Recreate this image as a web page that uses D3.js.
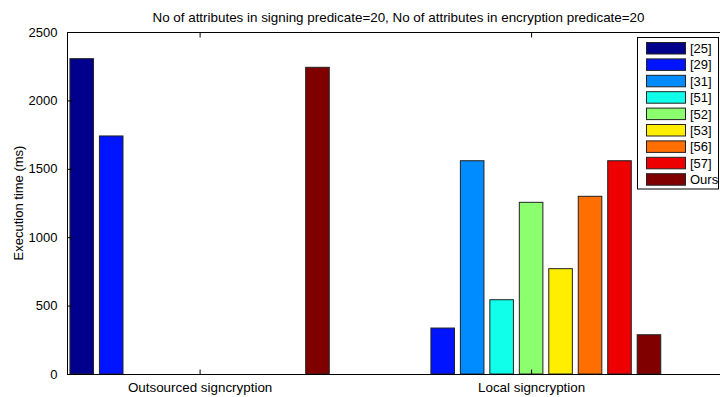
<!DOCTYPE html>
<html>
<head>
<meta charset="utf-8">
<script src="https://cdn.jsdelivr.net/npm/d3@7"></script>
<style>
  body { margin: 0; background: #fff; }
  svg { display: block; font-family: "Liberation Sans", Arial, sans-serif; }
</style>
</head>
<body>
<svg id="chart" width="720" height="397"></svg>
<script>
// Execution time per scheme, in ms
const groups = ["Outsourced signcryption", "Local signcryption"];
const schemes = ["[25]", "[29]", "[31]", "[51]", "[52]", "[53]", "[56]", "[57]", "Ours"];
const outsourced = [2305, 1740, 0, 0, 0, 0, 0, 0, 2242];
const local = [0, 336, 1559, 543, 1255, 770, 1299, 1559, 287];
const yTicks = [0, 500, 1000, 1500, 2000, 2500];
const colors = ["#00008c", "#0014ff", "#008cff", "#10ffeb", "#8cff6e", "#ffee00", "#ff6e00", "#ee0000", "#800000"];
const title = "No of attributes in signing predicate=20, No of attributes in encryption predicate=20";

const series = [outsourced, local];

const svg = d3.select("#chart");
const plotLeft = 67, plotRight = 730, plotTop = 32, plotBottom = 374;
const fontFamily = "Liberation Sans, Arial, sans-serif";

// group positions 1 and 2 on a numeric axis, like a grouped bar plot
const x = d3.scaleLinear().domain([0.6, 2.6]).range([plotLeft, plotRight]);
const y = d3.scaleLinear().domain([0, 2500]).range([plotBottom, plotTop]);

const nb = schemes.length;
const groupWidth = 0.8;
const step = groupWidth / nb;
const barW = step * 0.8;

// bars
groups.forEach((g, gi) => {
  const center = gi + 1;
  series[gi].forEach((v, si) => {
    const c = center + (si - (nb - 1) / 2) * step;
    const x0 = x(c - barW / 2), x1 = x(c + barW / 2);
    svg.append("rect")
      .attr("x", x0).attr("y", y(v))
      .attr("width", x1 - x0).attr("height", y(0) - y(v))
      .attr("fill", colors[si])
      .attr("stroke", "#222").attr("stroke-width", 1);
  });
});

// axes frame (top and bottom lines, left line)
const frame = svg.append("g").attr("stroke", "#000").attr("stroke-width", 1).attr("fill", "none");
frame.append("line").attr("x1", plotLeft).attr("x2", plotRight).attr("y1", plotTop + 0.5).attr("y2", plotTop + 0.5);
frame.append("line").attr("x1", plotLeft).attr("x2", plotRight).attr("y1", plotBottom + 0.5).attr("y2", plotBottom + 0.5);
frame.append("line").attr("x1", plotLeft + 0.5).attr("x2", plotLeft + 0.5).attr("y1", plotTop).attr("y2", plotBottom + 1);

// y axis with inward ticks
const yAxis = d3.axisLeft(y).tickValues(yTicks).tickFormat(d3.format("d"))
  .tickSizeInner(-5).tickSizeOuter(0).tickPadding(10);
const yg = svg.append("g").attr("transform", `translate(${plotLeft + 0.5},0)`).call(yAxis);
yg.select(".domain").remove();
yg.selectAll("text").attr("font-size", 13).attr("fill", "#000").attr("font-family", fontFamily);
yg.selectAll("line").attr("stroke", "#000");

// x axis: inward ticks at group centers, top and bottom
const xAxis = d3.axisBottom(x).tickValues([1, 2]).tickFormat((d, i) => groups[i])
  .tickSizeInner(-5).tickSizeOuter(0).tickPadding(8);
const xg = svg.append("g").attr("transform", `translate(0,${plotBottom + 0.5})`).call(xAxis);
xg.select(".domain").remove();
xg.selectAll("text").attr("font-size", 13.4).attr("fill", "#000").attr("font-family", fontFamily);
xg.selectAll("line").attr("stroke", "#000");

const xTop = d3.axisTop(x).tickValues([1, 2]).tickFormat("").tickSizeInner(-5).tickSizeOuter(0);
const xtg = svg.append("g").attr("transform", `translate(0,${plotTop + 0.5})`).call(xTop);
xtg.select(".domain").remove();
xtg.selectAll("line").attr("stroke", "#000");

// title
svg.append("text")
  .attr("x", (plotLeft + plotRight) / 2).attr("y", 22)
  .attr("text-anchor", "middle").attr("font-size", 13.4).attr("fill", "#000")
  .text(title);

// y label
svg.append("text")
  .attr("transform", `translate(23,${(plotTop + plotBottom) / 2}) rotate(-90)`)
  .attr("text-anchor", "middle").attr("font-size", 13).attr("fill", "#000")
  .text("Execution time (ms)");

// legend
const lg = svg.append("g");
const lx = 637.5, ly = 37.5, lw = 81, lh = 151.5;
lg.append("rect").attr("x", lx).attr("y", ly).attr("width", lw).attr("height", lh)
  .attr("fill", "#fff").attr("stroke", "#000").attr("stroke-width", 1);
schemes.forEach((s, i) => {
  const yy = 42 + i * 16.4;
  lg.append("rect").attr("x", 646.5).attr("y", yy + 0.5).attr("width", 39).attr("height", 11.5)
    .attr("fill", colors[i]).attr("stroke", "#222").attr("stroke-width", 1);
  lg.append("text").attr("x", 690).attr("y", yy + 11).attr("font-size", 13).attr("fill", "#000").text(s);
});
</script>
</body>
</html>
